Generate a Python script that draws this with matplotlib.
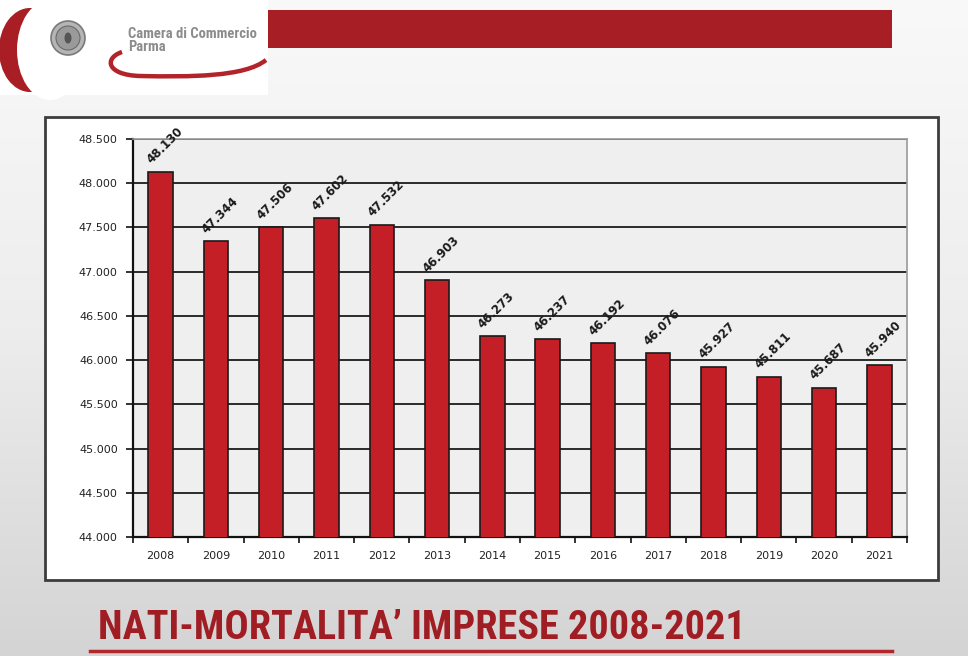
import numpy as np
import matplotlib
matplotlib.use('Agg')
import matplotlib.pyplot as plt
from matplotlib.patches import Rectangle, Circle, Ellipse, PathPatch
from matplotlib.path import Path
from matplotlib.colors import LinearSegmentedColormap
from matplotlib.ticker import FixedLocator, FuncFormatter

# ---------------- data ----------------
years = ['2008', '2009', '2010', '2011', '2012', '2013', '2014',
         '2015', '2016', '2017', '2018', '2019', '2020', '2021']
values = [48130, 47344, 47506, 47602, 47532, 46903, 46273,
          46237, 46192, 46076, 45927, 45811, 45687, 45940]
y_ticks = [44000, 44500, 45000, 45500, 46000, 46500, 47000, 47500, 48000, 48500]
title = "NATI-MORTALITA\u2019 IMPRESE 2008-2021"
org_line1 = "Camera di Commercio"
org_line2 = "Parma"

COND = ['Roboto Condensed', 'Archivo Narrow', 'DejaVu Sans']
NARROW = ['Roboto Condensed', 'Archivo Narrow', 'DejaVu Sans']


def fmt(v):
    return f"{int(v):,}".replace(",", ".")


W, H = 968, 656
fig = plt.figure(figsize=(W / 100, H / 100), dpi=100)

# ---------------- slide background ----------------
bg = fig.add_axes([0, 0, 1, 1])
bg.set_xlim(0, W)
bg.set_ylim(H, 0)
bg.axis('off')
grad = np.linspace(0, 1, 256).reshape(-1, 1)
cmap = LinearSegmentedColormap.from_list('bg', ['#f9f9f9', '#ededed', '#d4d4d4'])
bg.imshow(grad, extent=[0, W, H, 0], cmap=cmap, aspect='auto', zorder=0)

# header
bg.add_patch(Rectangle((0, 0), 268, 95, facecolor='white', edgecolor='none', zorder=1))
bg.add_patch(Ellipse((30, 50), 62, 84, facecolor='#a81e24', edgecolor='none', zorder=2))
bg.add_patch(Ellipse((50, 50), 66, 100, facecolor='white', edgecolor='none', zorder=3))
bg.add_patch(Circle((68, 38), 17, facecolor='#b5b5b5', edgecolor='#7a7a7a', lw=1.2, zorder=4))
bg.add_patch(Circle((68, 38), 12, facecolor='#9a9a9a', edgecolor='#6a6a6a', lw=0.8, zorder=4))
bg.add_patch(Ellipse((68, 38), 7, 11, facecolor='#555555', edgecolor='none', zorder=5))
bg.text(128, 34, org_line1, fontsize=10.5, fontweight='bold', color='#8c8c8c',
        family=NARROW, va='center', ha='left', zorder=5)
bg.text(128, 47, org_line2, fontsize=10.5, fontweight='bold', color='#8c8c8c',
        family=NARROW, va='center', ha='left', zorder=5)
sw = Path([(122, 52), (104, 58), (106, 75), (140, 76), (190, 77), (245, 77), (266, 60)],
          [Path.MOVETO, Path.CURVE4, Path.CURVE4, Path.CURVE4, Path.CURVE4, Path.CURVE4, Path.CURVE4])
bg.add_patch(PathPatch(sw, facecolor='none', edgecolor='#b3232a', lw=3.2, zorder=5))
bg.add_patch(Rectangle((268, 10), 624, 38, facecolor='#a71e24', edgecolor='none', zorder=2))

# chart panel
bg.add_patch(Rectangle((45, 117), 893, 463, facecolor='white', edgecolor='#3c3c3c', lw=2, zorder=2))

# title
bg.text(98, 628, title, fontsize=29, fontweight='bold', color='#a11d24',
        family=COND, va='center', ha='left', zorder=5)
bg.plot([90, 892], [651, 651], color='#b3262c', lw=2.5, zorder=5)

# ---------------- chart ----------------
left, right, top, bottom = 133, 907, 139, 537
ax = fig.add_axes([left / W, 1 - bottom / H, (right - left) / W, (bottom - top) / H])
ax.set_facecolor('#efefef')
x = np.arange(len(years))
ax.bar(x, values, width=0.44, bottom=0, color='#c41f26', edgecolor='#1a1a1a', lw=1.2, zorder=3)
ax.set_xlim(-0.5, len(years) - 0.5)
ax.set_ylim(y_ticks[0], y_ticks[-1])

ax.yaxis.set_major_locator(FixedLocator(y_ticks))
ax.yaxis.set_major_formatter(FuncFormatter(lambda v, p: fmt(v)))
ax.grid(axis='y', color='#2a2a2a', lw=1.4, zorder=1)
ax.set_axisbelow(True)

ax.set_xticks(x)
ax.set_xticklabels(years)
ax.set_xticks(np.arange(len(years) + 1) - 0.5, minor=True)
ax.tick_params(axis='x', which='major', length=0, pad=10, labelsize=8, labelcolor='#222222')
ax.tick_params(axis='x', which='minor', length=4, width=1.2, direction='out', color='#111111')
ax.tick_params(axis='y', which='major', length=5, width=1.2, direction='out', color='#111111',
               pad=6, labelsize=8, labelcolor='#222222')

for s in ['left', 'bottom']:
    ax.spines[s].set_color('#111111')
    ax.spines[s].set_linewidth(1.6)
for s in ['top', 'right']:
    ax.spines[s].set_color('#9a9a9a')
    ax.spines[s].set_linewidth(1.2)

for xi, v in zip(x, values):
    ax.annotate(fmt(v), xy=(xi, v), xytext=(4, 26), textcoords='offset pixels',
                rotation=45, ha='center', va='center', fontsize=8.5, fontweight='bold',
                color='#1a1a1a', zorder=4, annotation_clip=False)

fig.savefig('out.png', dpi=100)
